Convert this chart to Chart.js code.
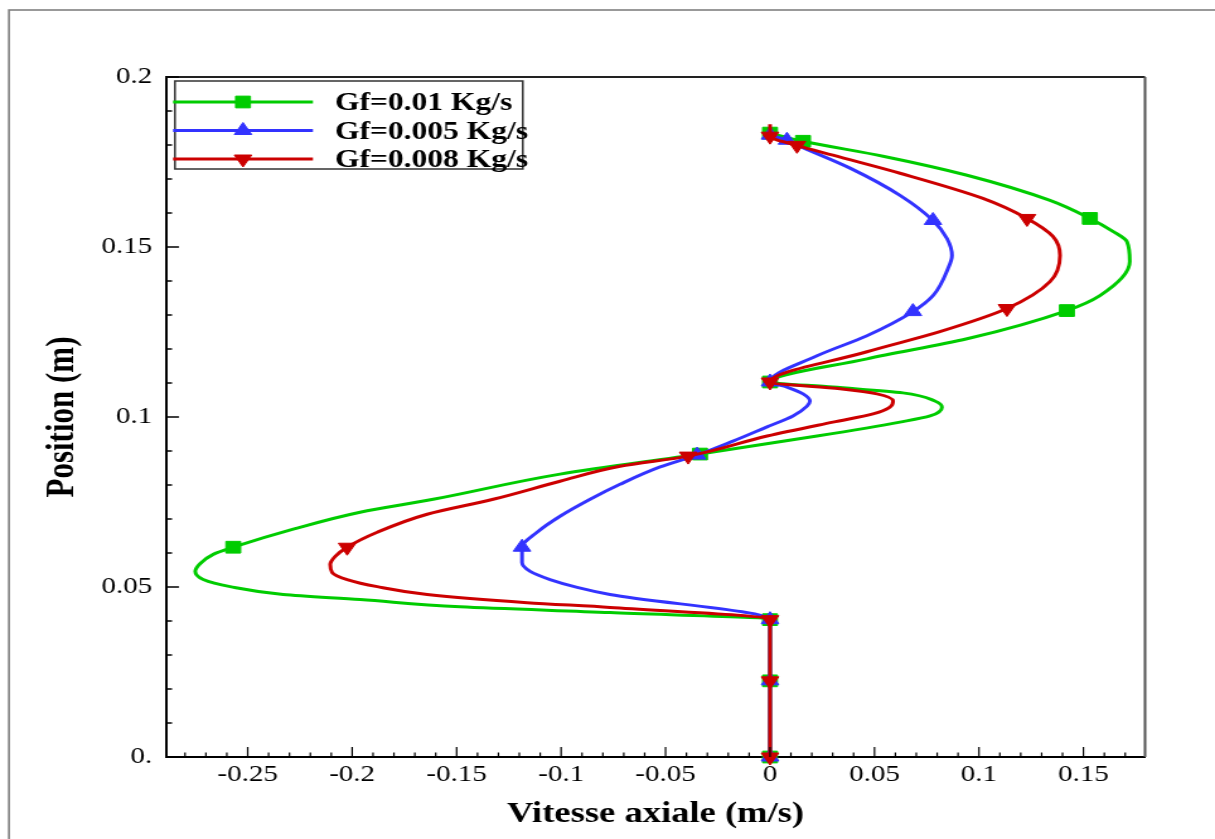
<!DOCTYPE html>
<html lang="fr">
<head>
<meta charset="UTF-8">
<title>Vitesse axiale</title>
<script src="https://cdn.jsdelivr.net/npm/chart.js"></script>
<style>
  html, body { margin: 0; padding: 0; background: #fff; overflow: hidden; }
  /* the original figure is stretched horizontally, so the canvas is too */
  #wrap { width: 964px; height: 839px; transform: scaleX(1.26037); transform-origin: 0 0; }
</style>
</head>
<body>
<div id="wrap"><canvas id="profil" width="964" height="839"></canvas></div>
<script>
// Gf = 0.01 Kg/s
const g010X = [0, 0, 0, -0.0766, -0.1483, -0.1962, -0.2330, -0.2584, -0.2713, -0.2751, -0.2727, -0.2665, -0.2569,
  -0.2282, -0.1962, -0.1612, -0.1005, -0.0335, 0.0225, 0.0622, 0.0766, 0.0823, 0.0789, 0.0636, 0.0301, 0,
  0.0464, 0.0943, 0.1421, 0.1579, 0.1722, 0.1708, 0.1641, 0.1531, 0.1340, 0.0943, 0.0541, 0.0158, 0];
const g010Y = [0, 0.0224, 0.0404, 0.0425, 0.0442, 0.0463, 0.0478, 0.0501, 0.0522, 0.0546, 0.0569, 0.0596, 0.0617,
  0.0670, 0.0720, 0.0758, 0.0832, 0.0891, 0.0944, 0.0985, 0.1003, 0.1029, 0.1047, 0.1071, 0.1088, 0.1103,
  0.1171, 0.1230, 0.1313, 0.1357, 0.1457, 0.1516, 0.1546, 0.1584, 0.1637, 0.1711, 0.1767, 0.1811, 0.1835];
const g010Mark = [1, 1, 1, 0, 0, 0, 0, 0, 0, 0, 0, 0, 1,
  0, 0, 0, 0, 1, 0, 0, 0, 0, 0, 0, 0, 1,
  0, 0, 1, 0, 0, 0, 0, 1, 0, 0, 0, 1, 1];

// Gf = 0.005 Kg/s
const g005X = [0, 0, 0, -0.0766, -0.0923, -0.1053, -0.1148, -0.1187, -0.1187, -0.1115, -0.1005, -0.0861,
  -0.0718, -0.0526, -0.0349, -0.0177, -0.0014, 0.0110, 0.0177, 0.0191, 0.0158, 0.0081, 0,
  0.0225, 0.0464, 0.0684, 0.0780, 0.0852, 0.0871, 0.0847, 0.0780, 0.0622, 0.0383, 0.0144, 0.0081, 0];
const g005Y = [0, 0.0224, 0.0404, 0.0478, 0.0499, 0.0522, 0.0546, 0.0572, 0.0617, 0.0661, 0.0708, 0.0758,
  0.0802, 0.0853, 0.0888, 0.0929, 0.0971, 0.1003, 0.1032, 0.1047, 0.1068, 0.1088, 0.1103,
  0.1180, 0.1239, 0.1310, 0.1357, 0.1437, 0.1475, 0.1525, 0.1578, 0.1652, 0.1732, 0.1796, 0.1814, 0.1829];
const g005Mark = [1, 1, 1, 0, 0, 0, 0, 0, 1, 0, 0, 0,
  0, 0, 1, 0, 0, 0, 0, 0, 0, 0, 1,
  0, 0, 1, 0, 0, 0, 0, 1, 0, 0, 0, 1, 1];

// Gf = 0.008 Kg/s
const g008X = [0, 0, 0, -0.0766, -0.1163, -0.1641, -0.1880, -0.2024, -0.2096, -0.2105, -0.2081, -0.2024,
  -0.1880, -0.1641, -0.1325, -0.1005, -0.0718, -0.0392, -0.0014, 0.0301, 0.0493, 0.0574, 0.0589, 0.0512, 0.0335, 0,
  0.0464, 0.0813, 0.1134, 0.1340, 0.1388, 0.1354, 0.1230, 0.1019, 0.0622, 0.0301, 0.0129, 0, 0];
const g008Y = [0, 0.0224, 0.0404, 0.0440, 0.0454, 0.0478, 0.0501, 0.0522, 0.0543, 0.0566, 0.0590, 0.0617,
  0.0661, 0.0714, 0.0758, 0.0811, 0.0855, 0.0885, 0.0944, 0.0985, 0.1009, 0.1029, 0.1047, 0.1068, 0.1083, 0.1103,
  0.1192, 0.1251, 0.1319, 0.1398, 0.1475, 0.1531, 0.1584, 0.1643, 0.1717, 0.1770, 0.1799, 0.1826, 0.1861];
const g008Mark = [1, 1, 1, 0, 0, 0, 0, 0, 0, 0, 0, 1,
  0, 0, 0, 0, 0, 1, 0, 0, 0, 0, 0, 0, 0, 1,
  0, 0, 1, 0, 0, 0, 1, 0, 0, 0, 1, 1, 0];

const xTickValues = [-0.25, -0.2, -0.15, -0.1, -0.05, 0, 0.05, 0.1, 0.15];
const xTickLabels = ['-0.25', '-0.2', '-0.15', '-0.1', '-0.05', '0', '0.05', '0.1', '0.15'];
const yTickValues = [0, 0.05, 0.1, 0.15, 0.2];
const yTickLabels = ['0.', '0.05', '0.1', '0.15', '0.2'];

Chart.defaults.font.family = '"Liberation Serif", "Times New Roman", serif';
Chart.defaults.color = '#000';

function labelFor(values, labels) {
  return v => {
    const i = values.findIndex(t => Math.abs(t - v) < 1e-6);
    return i < 0 ? '' : labels[i];
  };
}

function isMajor(v) {
  const k = v / 0.05;
  return Math.abs(k - Math.round(k)) < 1e-6;
}

// profiles are x = f(y), so y is the index axis for the smoothing
function serie(label, xs, ys, marks, color, style, rot, r, order) {
  return {
    label: label,
    order: order,
    indexAxis: 'y',
    data: xs.map((v, i) => ({ x: v, y: ys[i] })),
    borderColor: color,
    backgroundColor: color,
    borderWidth: 3,
    cubicInterpolationMode: 'monotone',
    showLine: true,
    clip: false,
    pointStyle: style,
    pointRotation: rot,
    markerSize: r,
    pointRadius: marks.map(m => m ? r : 0),
    pointBackgroundColor: color,
    pointBorderColor: color,
    pointBorderWidth: 1
  };
}

// outer frame, box edges and inward tick marks
const frameAndTicks = {
  id: 'frameAndTicks',
  beforeDraw(chart) {
    const ctx = chart.ctx;
    ctx.save();
    ctx.fillStyle = '#fff';
    ctx.fillRect(0, 0, chart.width, chart.height);
    ctx.strokeStyle = '#808080';
    ctx.lineWidth = 1.6;
    ctx.strokeRect(7.1, 10, chart.width + 20, chart.height + 20);
    ctx.restore();
  },
  afterDraw(chart) {
    const { ctx, chartArea: a, scales: { x, y } } = chart;
    ctx.save();
    ctx.lineWidth = 2;
    ctx.strokeStyle = '#222';
    ctx.beginPath(); ctx.moveTo(a.left, a.top); ctx.lineTo(a.right, a.top); ctx.stroke();
    ctx.strokeStyle = '#555';
    ctx.beginPath(); ctx.moveTo(a.right, a.top); ctx.lineTo(a.right, a.bottom); ctx.stroke();

    ctx.strokeStyle = '#000';
    ctx.lineWidth = 1.2;
    x.ticks.forEach(t => {
      const px = x.getPixelForValue(t.value);
      ctx.beginPath();
      ctx.moveTo(px, a.bottom);
      ctx.lineTo(px, a.bottom - (isMajor(t.value) ? 10 : 4.5));
      ctx.stroke();
    });
    ctx.lineWidth = 1.5;
    y.ticks.forEach(t => {
      const py = y.getPixelForValue(t.value);
      ctx.beginPath();
      ctx.moveTo(a.left, py);
      ctx.lineTo(a.left + (isMajor(t.value) ? 10.3 : 4.8), py);
      ctx.stroke();
    });
    ctx.restore();
  }
};

// boxed legend inside the plot, top left
const boxLegend = {
  id: 'boxLegend',
  afterDraw(chart) {
    const { ctx, chartArea: a } = chart;
    const left = a.left + 7.1, top = a.top + 4, w = 276, h = 88;
    ctx.save();
    ctx.fillStyle = '#fff';
    ctx.fillRect(left, top, w, h);
    ctx.strokeStyle = '#333';
    ctx.lineWidth = 1.5;
    ctx.strokeRect(left, top, w, h);
    chart.data.datasets.forEach((ds, i) => {
      const yy = top + 21 + i * 28.5;
      ctx.strokeStyle = ds.borderColor;
      ctx.lineWidth = 3;
      ctx.beginPath();
      ctx.moveTo(left - 1.5, yy);
      ctx.lineTo(left + 109.5, yy);
      ctx.stroke();
      ctx.fillStyle = ds.borderColor;
      ctx.lineWidth = 1;
      Chart.helpers.drawPoint(ctx, {
        pointStyle: ds.pointStyle,
        rotation: ds.pointRotation || 0,
        radius: ds.markerSize,
        borderWidth: 1
      }, left + 54, yy);
      ctx.fillStyle = '#000';
      ctx.font = 'bold 25px "Liberation Serif", "Times New Roman", serif';
      ctx.textBaseline = 'alphabetic';
      ctx.textAlign = 'left';
      ctx.fillText(ds.label, left + 127, yy + 8);
    });
    ctx.restore();
  }
};

new Chart(document.getElementById('profil'), {
  type: 'scatter',
  data: {
    datasets: [
      serie('Gf=0.01 Kg/s', g010X, g010Y, g010Mark, '#00cc00', 'rect', 0, 8.3, 2),
      serie('Gf=0.005 Kg/s', g005X, g005Y, g005Mark, '#3333ff', 'triangle', 0, 8, 1),
      serie('Gf=0.008 Kg/s', g008X, g008Y, g008Mark, '#cc0000', 'triangle', 180, 8, 0)
    ]
  },
  options: {
    responsive: false,
    animation: false,
    events: [],
    layout: { padding: { left: 0, top: 77, right: 55.5, bottom: 0 } },
    plugins: {
      legend: { display: false },
      tooltip: { enabled: false }
    },
    scales: {
      x: {
        type: 'linear',
        min: -0.2891,
        max: 0.1795,
        afterFit: s => { s.height = 82; },
        grid: { drawOnChartArea: false, drawTicks: false },
        border: { color: '#000', width: 2 },
        ticks: {
          stepSize: 0.01,
          includeBounds: false,
          autoSkip: false,
          maxRotation: 0,
          padding: 4,
          font: { size: 23 },
          color: '#000',
          callback: labelFor(xTickValues, xTickLabels)
        },
        title: {
          display: true,
          text: 'Vitesse axiale (m/s)',
          font: { size: 29, weight: 'bold' },
          color: '#000',
          padding: { top: 0, bottom: 7 }
        }
      },
      y: {
        type: 'linear',
        min: 0,
        max: 0.2,
        afterFit: s => { s.width = 131.7; },
        grid: { drawOnChartArea: false, drawTicks: false },
        border: { color: '#000', width: 2 },
        ticks: {
          stepSize: 0.01,
          autoSkip: false,
          padding: 11,
          font: { size: 23 },
          color: '#000',
          callback: labelFor(yTickValues, yTickLabels)
        },
        title: {
          display: true,
          text: 'Position (m)',
          font: { size: 31, weight: 'bold' },
          color: '#000',
          padding: { top: 31, bottom: 0 }
        }
      }
    }
  },
  plugins: [frameAndTicks, boxLegend]
});
</script>
</body>
</html>
